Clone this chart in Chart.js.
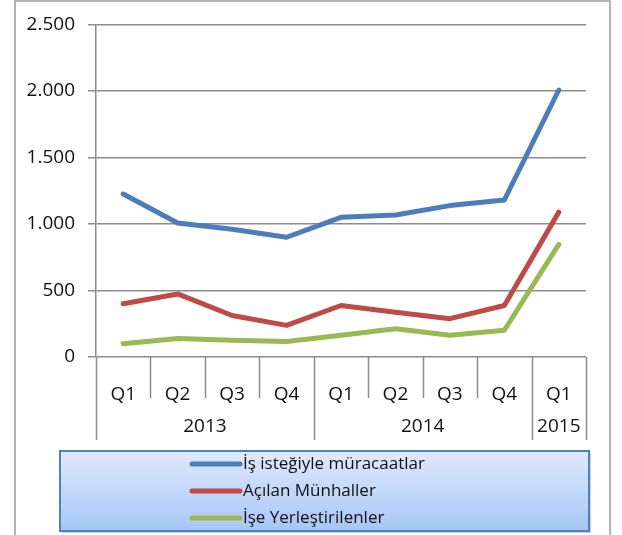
<!DOCTYPE html>
<html>
<head>
<meta charset="utf-8">
<script src="https://cdn.jsdelivr.net/npm/chart.js@4/dist/chart.umd.min.js"></script>
<style>
  body { margin: 0; background: #fff; }
  #wrap { width: 622px; height: 535px; position: relative; }
</style>
</head>
<body>
<div id="wrap"><canvas id="chart"></canvas></div>
<script>
// veriler
const quarters = ["Q1", "Q2", "Q3", "Q4", "Q1", "Q2", "Q3", "Q4", "Q1"];
const years = ["2013", "2014", "2015"];
const yearSpans = [4, 4, 1];

const seriesNames = ["İş isteğiyle müracaatlar", "Açılan Münhaller", "İşe Yerleştirilenler"];
const basvuru = [1225, 1007, 960, 900, 1050, 1068, 1138, 1180, 2007];
const munhal = [400, 474, 312, 238, 387, 337, 288, 387, 1089];
const yerlesen = [100, 139, 126, 117, 164, 213, 164, 201, 846];

const yTicks = [0, 500, 1000, 1500, 2000, 2500];

const colors = ["#4a7ebb", "#be4b48", "#98b954"];
const gray = "#8c8c8c";
const fontFamily = "'Open Sans', 'Liberation Sans', sans-serif";

function fmt(v) {
    return String(v).replace(/\B(?=(\d{3})+(?!\d))/g, ".");
}

// dış çerçeve
const framePlugin = {
    id: "frame",
    beforeDraw(chart) {
        const ctx = chart.ctx;
        ctx.save();
        ctx.strokeStyle = "#9a9a9a";
        ctx.lineWidth = 1.5;
        ctx.strokeRect(15, 1, 595, 600);
        ctx.restore();
    }
};

// çok seviyeli x ekseni (çeyrek ayraçları + yıllar)
const groupAxisPlugin = {
    id: "groupAxis",
    afterDraw(chart) {
        const ctx = chart.ctx;
        const xs = chart.scales.x;
        const half = (xs.getPixelForValue(1) - xs.getPixelForValue(0)) / 2;
        const top = chart.chartArea.bottom;
        const yearBounds = [0];
        yearSpans.forEach((s, i) => yearBounds.push(yearBounds[i] + s));

        ctx.save();
        ctx.strokeStyle = gray;
        ctx.lineWidth = 1.5;
        for (let i = 0; i <= quarters.length; i++) {
            const x = Math.round(xs.getPixelForValue(i) - half) + 0.5;
            const bottom = yearBounds.includes(i) ? top + 83 : top + 41;
            ctx.beginPath();
            ctx.moveTo(x, top);
            ctx.lineTo(x, bottom);
            ctx.stroke();
        }

        ctx.fillStyle = "#111";
        ctx.font = "19px " + fontFamily;
        ctx.textAlign = "center";
        ctx.textBaseline = "middle";
        years.forEach((y, i) => {
            const a = xs.getPixelForValue(yearBounds[i]) - half;
            const b = xs.getPixelForValue(yearBounds[i + 1]) - half;
            ctx.fillText(y, (a + b) / 2, top + 70);
        });
        ctx.restore();
    }
};

// gradyanlı lejant kutusu
const legendBoxPlugin = {
    id: "legendBox",
    afterDraw(chart) {
        const ctx = chart.ctx;
        const bx = 60, by = 451, bw = 529, bh = 80;
        ctx.save();
        ctx.fillStyle = "rgba(0,0,0,0.18)";
        ctx.fillRect(bx + 2, by + 2, bw, bh);
        const g = ctx.createLinearGradient(0, by, 0, by + bh);
        g.addColorStop(0, "#e0eafd");
        g.addColorStop(1, "#a6c6f7");
        ctx.fillStyle = g;
        ctx.fillRect(bx, by, bw, bh);
        ctx.strokeStyle = "#4f81bd";
        ctx.lineWidth = 2;
        ctx.strokeRect(bx, by, bw, bh);

        ctx.font = "17px " + fontFamily;
        ctx.textBaseline = "middle";
        ctx.textAlign = "left";
        chart.data.datasets.forEach((ds, i) => {
            const y = 464 + i * 27;
            ctx.strokeStyle = ds.borderColor;
            ctx.lineWidth = 5;
            ctx.lineCap = "round";
            ctx.beginPath();
            ctx.moveTo(192, y);
            ctx.lineTo(240, y);
            ctx.stroke();
            ctx.fillStyle = "#111";
            ctx.fillText(ds.label, 243, y);
        });
        ctx.restore();
    }
};

const lineDefaults = {
    borderWidth: 5,
    pointRadius: 0,
    tension: 0,
    borderCapStyle: "round",
    borderJoinStyle: "round",
    fill: false
};

new Chart(document.getElementById("chart"), {
    type: "line",
    data: {
        labels: quarters,
        datasets: [
            { ...lineDefaults, label: seriesNames[0], data: basvuru, borderColor: colors[0], backgroundColor: colors[0] },
            { ...lineDefaults, label: seriesNames[1], data: munhal, borderColor: colors[1], backgroundColor: colors[1] },
            { ...lineDefaults, label: seriesNames[2], data: yerlesen, borderColor: colors[2], backgroundColor: colors[2] },
        ],
    },
    options: {
        responsive: true,
        maintainAspectRatio: false,
        animation: false,
        layout: { padding: { left: 20, right: 36, top: 21, bottom: 94 } },
        plugins: {
            legend: { display: false },
            tooltip: { enabled: false },
        },
        scales: {
            x: {
                offset: true,
                grid: { display: false },
                border: { display: false },
                ticks: {
                    padding: 18,
                    color: "#111",
                    font: { size: 19, family: fontFamily },
                    maxRotation: 0,
                },
                afterFit(scale) { scale.height = 84; },
            },
            y: {
                min: 0,
                max: 2500,
                afterBuildTicks(scale) { scale.ticks = yTicks.map(v => ({ value: v })); },
                grid: { color: gray, lineWidth: 1.5, tickLength: 8 },
                border: { color: gray, width: 1.5 },
                ticks: {
                    padding: 13,
                    color: "#111",
                    font: { size: 19, family: fontFamily },
                    callback: v => fmt(v),
                },
                afterFit(scale) { scale.width = 76; },
            },
        },
    },
    plugins: [framePlugin, groupAxisPlugin, legendBoxPlugin],
});
</script>
</body>
</html>
